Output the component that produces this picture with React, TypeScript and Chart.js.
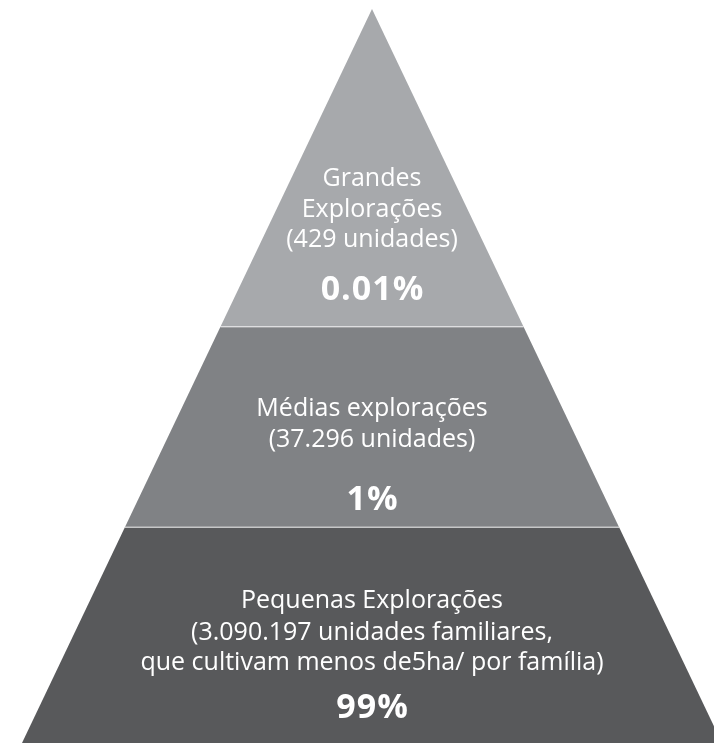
import React, { useEffect, useRef } from "react";
import { Chart, registerables } from "chart.js";

Chart.register(...registerables);

// Tiers listed from base to apex
const tierLabelLines: string[][] = [
  ["Pequenas Explorações", "(3.090.197 unidades familiares,", "que cultivam menos de5ha/ por família)"],
  ["Médias explorações", "(37.296 unidades)"],
  ["Grandes", "Explorações", "(429 unidades)"],
];
const tierUnits = [3090197, 37296, 429];
const tierPercents = ["99%", "1%", "0.01%"];
// Tier boundaries on a 0 (base) .. 1 (apex) scale
const tierLevels = [0, 0.294, 0.567, 1];
const tierColors = ["#58595b", "#808285", "#a7a9ac"];

// Text layout (pixel baselines)
const labelBaselines = [
  [608, 640, 670],
  [416, 447],
  [186, 217, 247],
];
const percentBaselines = [718, 510, 300];

const W = 714;
const H = 743;

const halfWidth = (level: number) => 1 - level;

// Fill each tier as one closed polygon through the points Chart.js positioned
const polygonPlugin = {
  id: "tierPolygons",
  beforeDatasetsDraw(chart: any) {
    const { ctx } = chart;
    ctx.save();
    chart.data.datasets.forEach((ds: any, i: number) => {
      const meta = chart.getDatasetMeta(i);
      const pts = meta.data;
      if (!pts.length) return;
      ctx.beginPath();
      ctx.moveTo(pts[0].x, pts[0].y);
      for (let k = 1; k < pts.length; k++) ctx.lineTo(pts[k].x, pts[k].y);
      ctx.closePath();
      ctx.fillStyle = ds.backgroundColor;
      ctx.fill();
    });
    ctx.restore();
  },
};

const textPlugin = {
  id: "tierText",
  afterDatasetsDraw(chart: any) {
    const { ctx, scales } = chart;
    const cx = scales.x.getPixelForValue(0);
    ctx.save();
    ctx.fillStyle = "#ffffff";
    ctx.textAlign = "center";
    ctx.textBaseline = "alphabetic";
    tierLabelLines.forEach((lines, i) => {
      ctx.font = "400 25px 'Open Sans'";
      (ctx as any).letterSpacing = "0px";
      lines.forEach((line, j) => {
        ctx.fillText(line, cx, labelBaselines[i][j]);
      });
      ctx.font = "700 34px 'Open Sans'";
      (ctx as any).letterSpacing = "1px";
      ctx.fillText(tierPercents[i], cx + 0.5, percentBaselines[i]);
    });
    ctx.restore();
  },
};

export default function App() {
  const ref = useRef<HTMLCanvasElement | null>(null);

  useEffect(() => {
    if (!ref.current) return;
    const datasets = tierUnits.map((units, i) => {
      const y0 = tierLevels[i];
      const y1 = tierLevels[i + 1];
      return {
        label: `${units}`,
        data: [
          { x: -halfWidth(y0), y: y0 },
          { x: -halfWidth(y1), y: y1 },
          { x: halfWidth(y1), y: y1 },
          { x: halfWidth(y0), y: y0 },
        ],
        showLine: true,
        pointRadius: 0,
        borderWidth: i === tierUnits.length - 1 ? 0 : 1.5,
        segment: {
          borderColor: (c: any) => (c.p0DataIndex === 1 ? "rgba(255,255,255,0.55)" : "rgba(0,0,0,0)"),
        },
        backgroundColor: tierColors[i],
        fill: false,
        tension: 0,
      };
    });

    const chart = new Chart(ref.current, {
      type: "scatter",
      data: { datasets },
      options: {
        responsive: false,
        animation: false,
        layout: { padding: 0 },
        plugins: { legend: { display: false }, tooltip: { enabled: false } },
        scales: {
          x: { type: "linear", display: false, min: -372 / 350, max: 342 / 350 },
          y: { type: "linear", display: false, min: 0, max: 743 / 734 },
        },
      },
      plugins: [polygonPlugin, textPlugin],
    } as any);
    return () => chart.destroy();
  }, []);

  return (
    <div style={{ position: "absolute", left: 0, top: 0, width: W, height: H, background: "#ffffff" }}>
      <canvas ref={ref} width={W} height={H} />
    </div>
  );
}
